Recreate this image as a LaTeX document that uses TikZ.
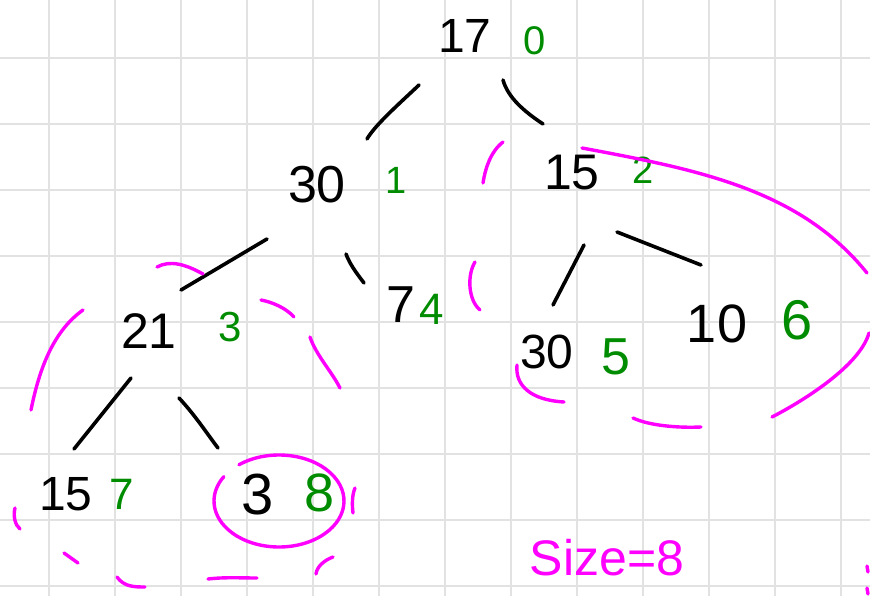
\documentclass[tikz,border=0pt]{standalone}
\usepackage{fontspec}
\setmainfont{Liberation Sans}
\definecolor{hwgreen}{RGB}{0,140,0}
\definecolor{hwpink}{RGB}{255,0,255}
\definecolor{gridgray}{RGB}{226,226,226}
\begin{document}
\begin{tikzpicture}[x=1pt,y=-1pt,
  gridline/.style={draw=gridgray,line width=1.6pt},
  edge/.style={draw=black,line width=3.6pt,line cap=round},
  pinkstroke/.style={draw=hwpink,line width=3.4pt,line cap=round},
  val/.style={inner sep=0pt,text=black,font=\fontsize{#1}{#1}\selectfont},
  idx/.style={inner sep=0pt,text=hwgreen,font=\fontsize{#1}{#1}\selectfont},
  note/.style={inner sep=0pt,text=hwpink,font=\fontsize{#1}{#1}\selectfont}]
\fill[white] (0,0) rectangle (870,596);
\useasboundingbox (0,0) rectangle (870,596);
% grid paper
\foreach \gx in {49,115,...,841} \draw[gridline] (\gx,0) -- (\gx,596);
\foreach \gy in {58,124,...,586} \draw[gridline] (0,\gy) -- (870,\gy);

% values (black) and indices (green)
\node[val=48] (v0) at (465,36) {17};
\node[idx=40] (i0) at (535,41) {0};
\node[val=52] (v1) at (317,185) {30};
\node[idx=38] (i1) at (396,180) {1};
\node[val=50] (v2) at (572,173) {15};
\node[idx=38] (i2) at (643,170) {2};
\node[val=50] (v3) at (149,331) {21};
\node[idx=42] (i3) at (230,327) {3};
\node[val=52] (v4) at (401,305) {7};
\node[idx=44] (i4) at (432,309) {4};
\node[val=48] (v5) at (547,352) {30};
\node[idx=52] (i5) at (616,357) {5};
\node[val=54] (v6) at (717,324) {10};
\node[idx=56] (i6) at (797,320) {6};
\node[val=48] (v7) at (66,494) {15};
\node[idx=44] (i7) at (122,494) {7};
\node[val=58] (v8) at (258,495) {3};
\node[idx=54] (i8) at (320,493) {8};
\node[note=50] (size) at (607,558) {Size=8};

% tree edges (short hand-drawn strokes)
\coordinate (e1a) at (419,85);  \coordinate (e1b) at (367,139);
\coordinate (e2a) at (503,80);  \coordinate (e2b) at (543,124);
\coordinate (e3a) at (267,239); \coordinate (e3b) at (181,290);
\coordinate (e4a) at (346,254); \coordinate (e4b) at (364,283);
\coordinate (e5a) at (584,245); \coordinate (e5b) at (553,305);
\coordinate (e6a) at (617,232); \coordinate (e6b) at (701,265);
\coordinate (e7a) at (131,378); \coordinate (e7b) at (74,449);
\coordinate (e8a) at (179,398); \coordinate (e8b) at (218,448);
\draw[edge] (e1a) .. controls (400,103) and (375,125) .. (e1b);
\draw[edge] (e2a) .. controls (508,98) and (525,112) .. (e2b);
\draw[edge] (e3a) -- (e3b);
\draw[edge] (e4a) .. controls (350,265) and (358,275) .. (e4b);
\draw[edge] (e5a) -- (e5b);
\draw[edge] (e6a) -- (e6b);
\draw[edge] (e7a) -- (e7b);
\draw[edge] (e8a) .. controls (195,415) and (208,435) .. (e8b);

% pink marks
\coordinate (c8) at (279,501);
\draw[pinkstroke] (503,142) .. controls (490,152) and (485,170) .. (483,183);
\draw[pinkstroke] (582,148) .. controls (700,170) and (800,190) .. (867,273);
\draw[pinkstroke] (869,333) .. controls (860,365) and (805,400) .. (772,417);
\draw[pinkstroke] (633,418) .. controls (650,426) and (680,428) .. (701,427);
\draw[pinkstroke] (517,365) .. controls (515,385) and (530,400) .. (564,402);
\draw[pinkstroke] (475,262) .. controls (467,275) and (468,300) .. (480,310);
\draw[pinkstroke] (157,267) .. controls (170,260) and (185,264) .. (203,274);
\draw[pinkstroke] (83,310) .. controls (55,330) and (40,365) .. (31,410);
\draw[pinkstroke] (261,300) .. controls (272,302) and (286,308) .. (294,317);
\draw[pinkstroke] (310,337) .. controls (316,355) and (332,372) .. (340,388);
\draw[pinkstroke] (15,508) .. controls (13,516) and (15,525) .. (20,529);
\draw[pinkstroke] (64,553) -- (78,563);
\draw[pinkstroke] (117,577) .. controls (124,587) and (135,587) .. (145,587);
\draw[pinkstroke] (208,579) .. controls (225,577) and (240,578) .. (257,578);
\draw[pinkstroke] (333,557) .. controls (325,560) and (317,566) .. (316,574);
\draw[pinkstroke] (355,488) .. controls (352,495) and (352,505) .. (353,513);
\draw[pinkstroke] (c8) ++(232:65 and 46) arc[start angle=232, end angle=572, x radius=65, y radius=46];
\draw[pinkstroke] (867,566) -- (868,572);
\draw[pinkstroke] (867,588) -- (868,594);
\end{tikzpicture}
\end{document}
